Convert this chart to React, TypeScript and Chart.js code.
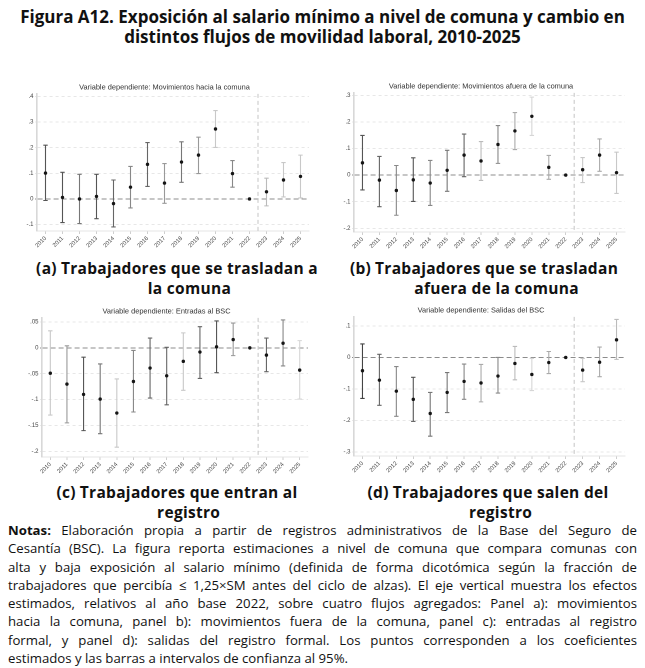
import React, { useEffect, useRef } from "react";
import { Chart, registerables } from "chart.js";

Chart.register(...registerables);

// ---------- DATA ----------
const years = ["2010", "2011", "2012", "2013", "2014", "2015", "2016", "2017", "2018", "2019", "2020", "2021", "2022", "2023", "2024", "2025"];
const baseYear = "2022";

// Panel a: Movimientos hacia la comuna
const coefA = [0.101, 0.006, 0.0, 0.01, -0.018, 0.046, 0.135, 0.062, 0.144, 0.171, 0.273, 0.099, 0, 0.028, 0.074, 0.088];
const loA = [-0.006, -0.092, -0.096, -0.077, -0.109, -0.035, 0.049, -0.017, 0.065, 0.099, 0.201, 0.046, null, -0.027, 0.008, 0.004];
const hiA = [0.21, 0.104, 0.096, 0.096, 0.074, 0.127, 0.22, 0.138, 0.223, 0.241, 0.345, 0.15, null, 0.081, 0.142, 0.171];
const ticksA = [-0.1, 0, 0.1, 0.2, 0.3, 0.4];
const rangeA = [-0.125, 0.41];

// Panel b: Movimientos afuera de la comuna
const coefB = [0.046, -0.019, -0.058, -0.018, -0.03, 0.018, 0.075, 0.053, 0.115, 0.166, 0.221, 0.029, 0, 0.02, 0.075, 0.009];
const loB = [-0.056, -0.119, -0.151, -0.099, -0.114, -0.061, -0.006, -0.02, 0.044, 0.096, 0.149, -0.016, null, -0.028, 0.014, -0.069];
const hiB = [0.149, 0.07, 0.036, 0.065, 0.055, 0.093, 0.154, 0.126, 0.186, 0.235, 0.293, 0.074, null, 0.066, 0.136, 0.086];
const ticksB = [-0.2, -0.1, 0, 0.1, 0.2, 0.3];
const rangeB = [-0.214, 0.309];

// Panel c: Entradas al BSC
const coefC = [-0.049, -0.07, -0.09, -0.099, -0.126, -0.065, -0.039, -0.054, -0.026, -0.008, 0.002, 0.016, 0, -0.014, 0.009, -0.043];
const loC = [-0.13, -0.145, -0.16, -0.166, -0.192, -0.124, -0.097, -0.11, -0.082, -0.059, -0.048, -0.015, null, -0.046, -0.035, -0.099];
const hiC = [0.033, 0.004, -0.018, -0.031, -0.06, -0.005, 0.019, 0.001, 0.029, 0.041, 0.052, 0.048, null, 0.019, 0.054, 0.014];
const ticksC = [-0.2, -0.15, -0.1, -0.05, 0, 0.05];
const rangeC = [-0.211, 0.058];

// Panel d: Salidas del BSC
const coefD = [-0.042, -0.072, -0.107, -0.133, -0.178, -0.111, -0.076, -0.081, -0.059, -0.019, -0.054, -0.016, 0, -0.04, -0.015, 0.056];
const loD = [-0.13, -0.152, -0.187, -0.203, -0.25, -0.175, -0.133, -0.141, -0.113, -0.071, -0.105, -0.051, null, -0.077, -0.061, -0.006];
const hiD = [0.043, 0.01, -0.029, -0.063, -0.111, -0.048, -0.021, -0.022, 0.0, 0.035, -0.003, 0.019, null, -0.003, 0.033, 0.121];
const ticksD = [-0.3, -0.2, -0.1, 0, 0.1];
const rangeD = [-0.313, 0.129];

// ---------- STYLES (bar shades) ----------
const shadeA = ["#555", "#555", "#777", "#555", "#666", "#888", "#666", "#999", "#777", "#999", "#c8c8c8", "#888", "#000", "#bbb", "#c8c8c8", "#c8c8c8"];
const shadeB = ["#555", "#666", "#888", "#555", "#888", "#777", "#666", "#bbb", "#888", "#aaa", "#d6d6d6", "#aaa", "#000", "#c8c8c8", "#aaa", "#c8c8c8"];
const shadeC = ["#c8c8c8", "#999", "#555", "#777", "#c8c8c8", "#888", "#666", "#666", "#c8c8c8", "#666", "#555", "#999", "#000", "#666", "#888", "#d6d6d6"];
const shadeD = ["#444", "#666", "#888", "#555", "#777", "#777", "#888", "#aaa", "#888", "#bbb", "#d6d6d6", "#aaa", "#000", "#c8c8c8", "#aaa", "#bbb"];

const AXIS_FONT = "'Liberation Sans', Arial, sans-serif";
const TEXT_FONT = "'Open Sans', 'Noto Sans', sans-serif";

const fmt = (v: number) => {
  const r = parseFloat(v.toFixed(3));
  if (r === 0) return "0";
  const s = String(Math.abs(r)).replace(/^0/, "");
  return (r < 0 ? "-" : "") + s;
};

const errorBarPlugin = {
  id: "errorBars",
  beforeDatasetsDraw(chart: any, _args: any, opts: any) {
    const { ctx, chartArea } = chart;
    const x = chart.scales.x;
    const y = chart.scales.y;
    ctx.save();
    const bi = opts.baseIndex;
    const xd = (x.getPixelForValue(bi) + x.getPixelForValue(bi + 1)) / 2;
    ctx.strokeStyle = "#c4c4c4";
    ctx.lineWidth = 1;
    ctx.setLineDash([4, 3]);
    ctx.beginPath();
    ctx.moveTo(xd, chartArea.top);
    ctx.lineTo(xd, chartArea.bottom);
    ctx.stroke();
    ctx.setLineDash([]);
    const lo: (number | null)[] = opts.lo;
    const hi: (number | null)[] = opts.hi;
    lo.forEach((l, i) => {
      const h = hi[i];
      if (l == null || h == null) return;
      const px = x.getPixelForValue(i);
      const p1 = y.getPixelForValue(l);
      const p2 = y.getPixelForValue(h);
      ctx.strokeStyle = opts.shades[i];
      ctx.lineWidth = 1.1;
      ctx.beginPath();
      ctx.moveTo(px, p1);
      ctx.lineTo(px, p2);
      ctx.moveTo(px - 2.2, p1);
      ctx.lineTo(px + 2.2, p1);
      ctx.moveTo(px - 2.2, p2);
      ctx.lineTo(px + 2.2, p2);
      ctx.stroke();
    });
    ctx.restore();
  },
};

type PanelProps = {
  title: string;
  coef: number[];
  lo: (number | null)[];
  hi: (number | null)[];
  ticks: number[];
  range: number[];
  shades: string[];
  box: { left: number; top: number; width: number; height: number };
  yWidth: number;
  xHeight: number;
  padRight: number;
};

function Panel(p: PanelProps) {
  const ref = useRef<HTMLCanvasElement | null>(null);
  useEffect(() => {
    if (!ref.current) return;
    const chart = new Chart(ref.current, {
      type: "line",
      data: {
        labels: years,
        datasets: [
          {
            data: p.coef,
            showLine: false,
            pointRadius: 1.7,
            pointBackgroundColor: "#151515",
            pointBorderColor: "#151515",
            pointBorderWidth: 0,
          },
        ],
      },
      plugins: [errorBarPlugin as any],
      options: {
        animation: false,
        responsive: false,
        maintainAspectRatio: false,
        devicePixelRatio: 2,
        layout: { padding: { left: 0, right: p.padRight, top: 0, bottom: 0 } },
        plugins: {
          legend: { display: false },
          tooltip: { enabled: false },
          title: {
            display: true,
            text: p.title,
            font: { size: 7.4, family: AXIS_FONT, weight: "normal" },
            color: "#333",
            padding: { top: 6, bottom: 2 },
          },
          errorBars: { lo: p.lo, hi: p.hi, shades: p.shades, baseIndex: years.indexOf(baseYear) },
        } as any,
        scales: {
          x: {
            type: "category",
            offset: true,
            grid: { display: true, drawOnChartArea: false, drawTicks: true, tickLength: 3, color: "#cfcfcf" },
            border: { display: true, color: "#e4e4e4", width: 1 },
            ticks: {
              autoSkip: false,
              minRotation: 45,
              maxRotation: 45,
              padding: 1,
              color: "#444",
              font: { size: 5.8, family: AXIS_FONT },
            },
            afterFit: (axis: any) => {
              axis.height = p.xHeight;
              axis.paddingLeft = 0;
              axis.paddingRight = 0;
            },
          },
          y: {
            type: "linear",
            min: p.range[0],
            max: p.range[1],
            afterBuildTicks: (axis: any) => {
              axis.ticks = p.ticks.map((v) => ({ value: v }));
            },
            afterFit: (axis: any) => {
              axis.width = p.yWidth;
            },
            grid: {
              display: true,
              drawTicks: true,
              tickLength: 2,
              lineWidth: (c: any) => (c.tick && c.tick.value === 0 ? 1 : 0.8),
              color: (c: any) => (c.tick && c.tick.value === 0 ? "#8c8c8c" : "#e2e2e2"),
            },
            border: {
              display: true,
              color: "#d8d8d8",
              width: 1.6,
              dash: (c: any) => (c.tick && c.tick.value === 0 ? [5, 3] : [3, 3]),
            } as any,
            ticks: {
              padding: 1.5,
              color: "#444",
              font: { size: 6, family: AXIS_FONT },
              callback: (v: any) => fmt(Number(v)),
            },
          },
        },
      } as any,
    });
    return () => chart.destroy();
  }, []);
  return (
    <div style={{ position: "absolute", left: p.box.left, top: p.box.top, width: p.box.width, height: p.box.height }}>
      <canvas ref={ref} width={p.box.width} height={p.box.height} style={{ width: p.box.width, height: p.box.height, display: "block" }} />
    </div>
  );
}

const TITLE_H = 7.4 * 1.2 + 8;
const X_H = 20;
const Y_W = 18;
function boxFor(areaLeft: number, areaRight: number, areaTop: number, areaBottom: number, padRight: number) {
  return {
    left: Math.round(areaLeft - Y_W),
    top: Math.round(areaTop - TITLE_H),
    width: Math.round(areaRight - areaLeft + Y_W + padRight),
    height: Math.round(areaBottom - areaTop + TITLE_H + X_H),
  };
}

function Caption({ label, lines, center, top }: { label: string; lines: string[]; center: number; top: number }) {
  return (
    <div
      style={{
        position: "absolute",
        left: center - 200,
        width: 400,
        top,
        display: "flex",
        justifyContent: "center",
        fontFamily: TEXT_FONT,
        fontWeight: 700,
        fontSize: 15.5,
        letterSpacing: "0.3px",
        lineHeight: "20px",
        color: "#111",
      }}
    >
      <div style={{ marginRight: 4 }}>{label}</div>
      <div style={{ textAlign: "center" }}>
        {lines.map((l, i) => (
          <div key={i}>{l}</div>
        ))}
      </div>
    </div>
  );
}

const noteLines = [
  "Elaboración propia a partir de registros administrativos de la Base del Seguro de",
  "Cesantía (BSC). La figura reporta estimaciones a nivel de comuna que compara comunas con",
  "alta y baja exposición al salario mínimo (definida de forma dicotómica según la fracción de",
  "trabajadores que percibía ≤ 1,25×SM antes del ciclo de alzas). El eje vertical muestra los efectos",
  "estimados, relativos al año base 2022, sobre cuatro flujos agregados: Panel a): movimientos",
  "hacia la comuna, panel b): movimientos fuera de la comuna, panel c): entradas al registro",
  "formal, y panel d): salidas del registro formal. Los puntos corresponden a los coeficientes",
  "estimados y las barras a intervalos de confianza al 95%.",
];

export default function App() {
  const PR = 3;
  return (
    <div style={{ position: "absolute", left: 0, top: 0, width: 645, height: 668, background: "#fff", overflow: "hidden" }}>
      <div
        style={{
          position: "absolute",
          left: 0,
          top: 7,
          width: 645,
          textAlign: "center",
          fontFamily: TEXT_FONT,
          fontWeight: 700,
          fontSize: 17,
          lineHeight: "20px",
          color: "#111",
        }}
      >
        <div>Figura A12. Exposición al salario mínimo a nivel de comuna y cambio en</div>
        <div>distintos flujos de movilidad laboral, 2010-2025</div>
      </div>

      <Panel title="Variable dependiente: Movimientos hacia la comuna" coef={coefA} lo={loA} hi={hiA} ticks={ticksA} range={rangeA} shades={shadeA}
        box={boxFor(37, 310, 94, 231.5, PR)} yWidth={Y_W} xHeight={X_H} padRight={PR} />
      <Panel title="Variable dependiente: Movimientos afuera de la comuna" coef={coefB} lo={loB} hi={hiB} ticks={ticksB} range={rangeB} shades={shadeB}
        box={boxFor(354, 625.5, 92.6, 231.7, PR)} yWidth={Y_W} xHeight={X_H} padRight={PR} />
      <Panel title="Variable dependiente: Entradas al BSC" coef={coefC} lo={loC} hi={hiC} ticks={ticksC} range={rangeC} shades={shadeC}
        box={boxFor(42.4, 309, 318, 456.7, PR)} yWidth={Y_W} xHeight={X_H} padRight={PR} />
      <Panel title="Variable dependiente: Salidas del BSC" coef={coefD} lo={loD} hi={hiD} ticks={ticksD} range={rangeD} shades={shadeD}
        box={boxFor(353.5, 625.5, 317, 456, PR)} yWidth={Y_W} xHeight={X_H} padRight={PR} />

      <Caption label="(a)" lines={["Trabajadores que se trasladan a", "la comuna"]} center={177} top={258} />
      <Caption label="(b)" lines={["Trabajadores que se trasladan", "afuera de la comuna"]} center={484} top={258} />
      <Caption label="(c)" lines={["Trabajadores que entran al", "registro"]} center={177} top={482} />
      <Caption label="(d)" lines={["Trabajadores que salen del", "registro"]} center={488} top={482} />

      <div
        style={{
          position: "absolute",
          left: 8,
          top: 521,
          width: 629,
          fontFamily: TEXT_FONT,
          fontSize: 13.2,
          lineHeight: "18.3px",
          color: "#111",
        }}
      >
        {noteLines.map((l, i) => (
          <div
            key={i}
            style={{
              whiteSpace: "nowrap",
              textAlign: i === noteLines.length - 1 ? "left" : "justify",
              textAlignLast: i === noteLines.length - 1 ? "left" : "justify",
            }}
          >
            {i === 0 ? <b>Notas: </b> : null}
            {l}
          </div>
        ))}
      </div>
    </div>
  );
}
